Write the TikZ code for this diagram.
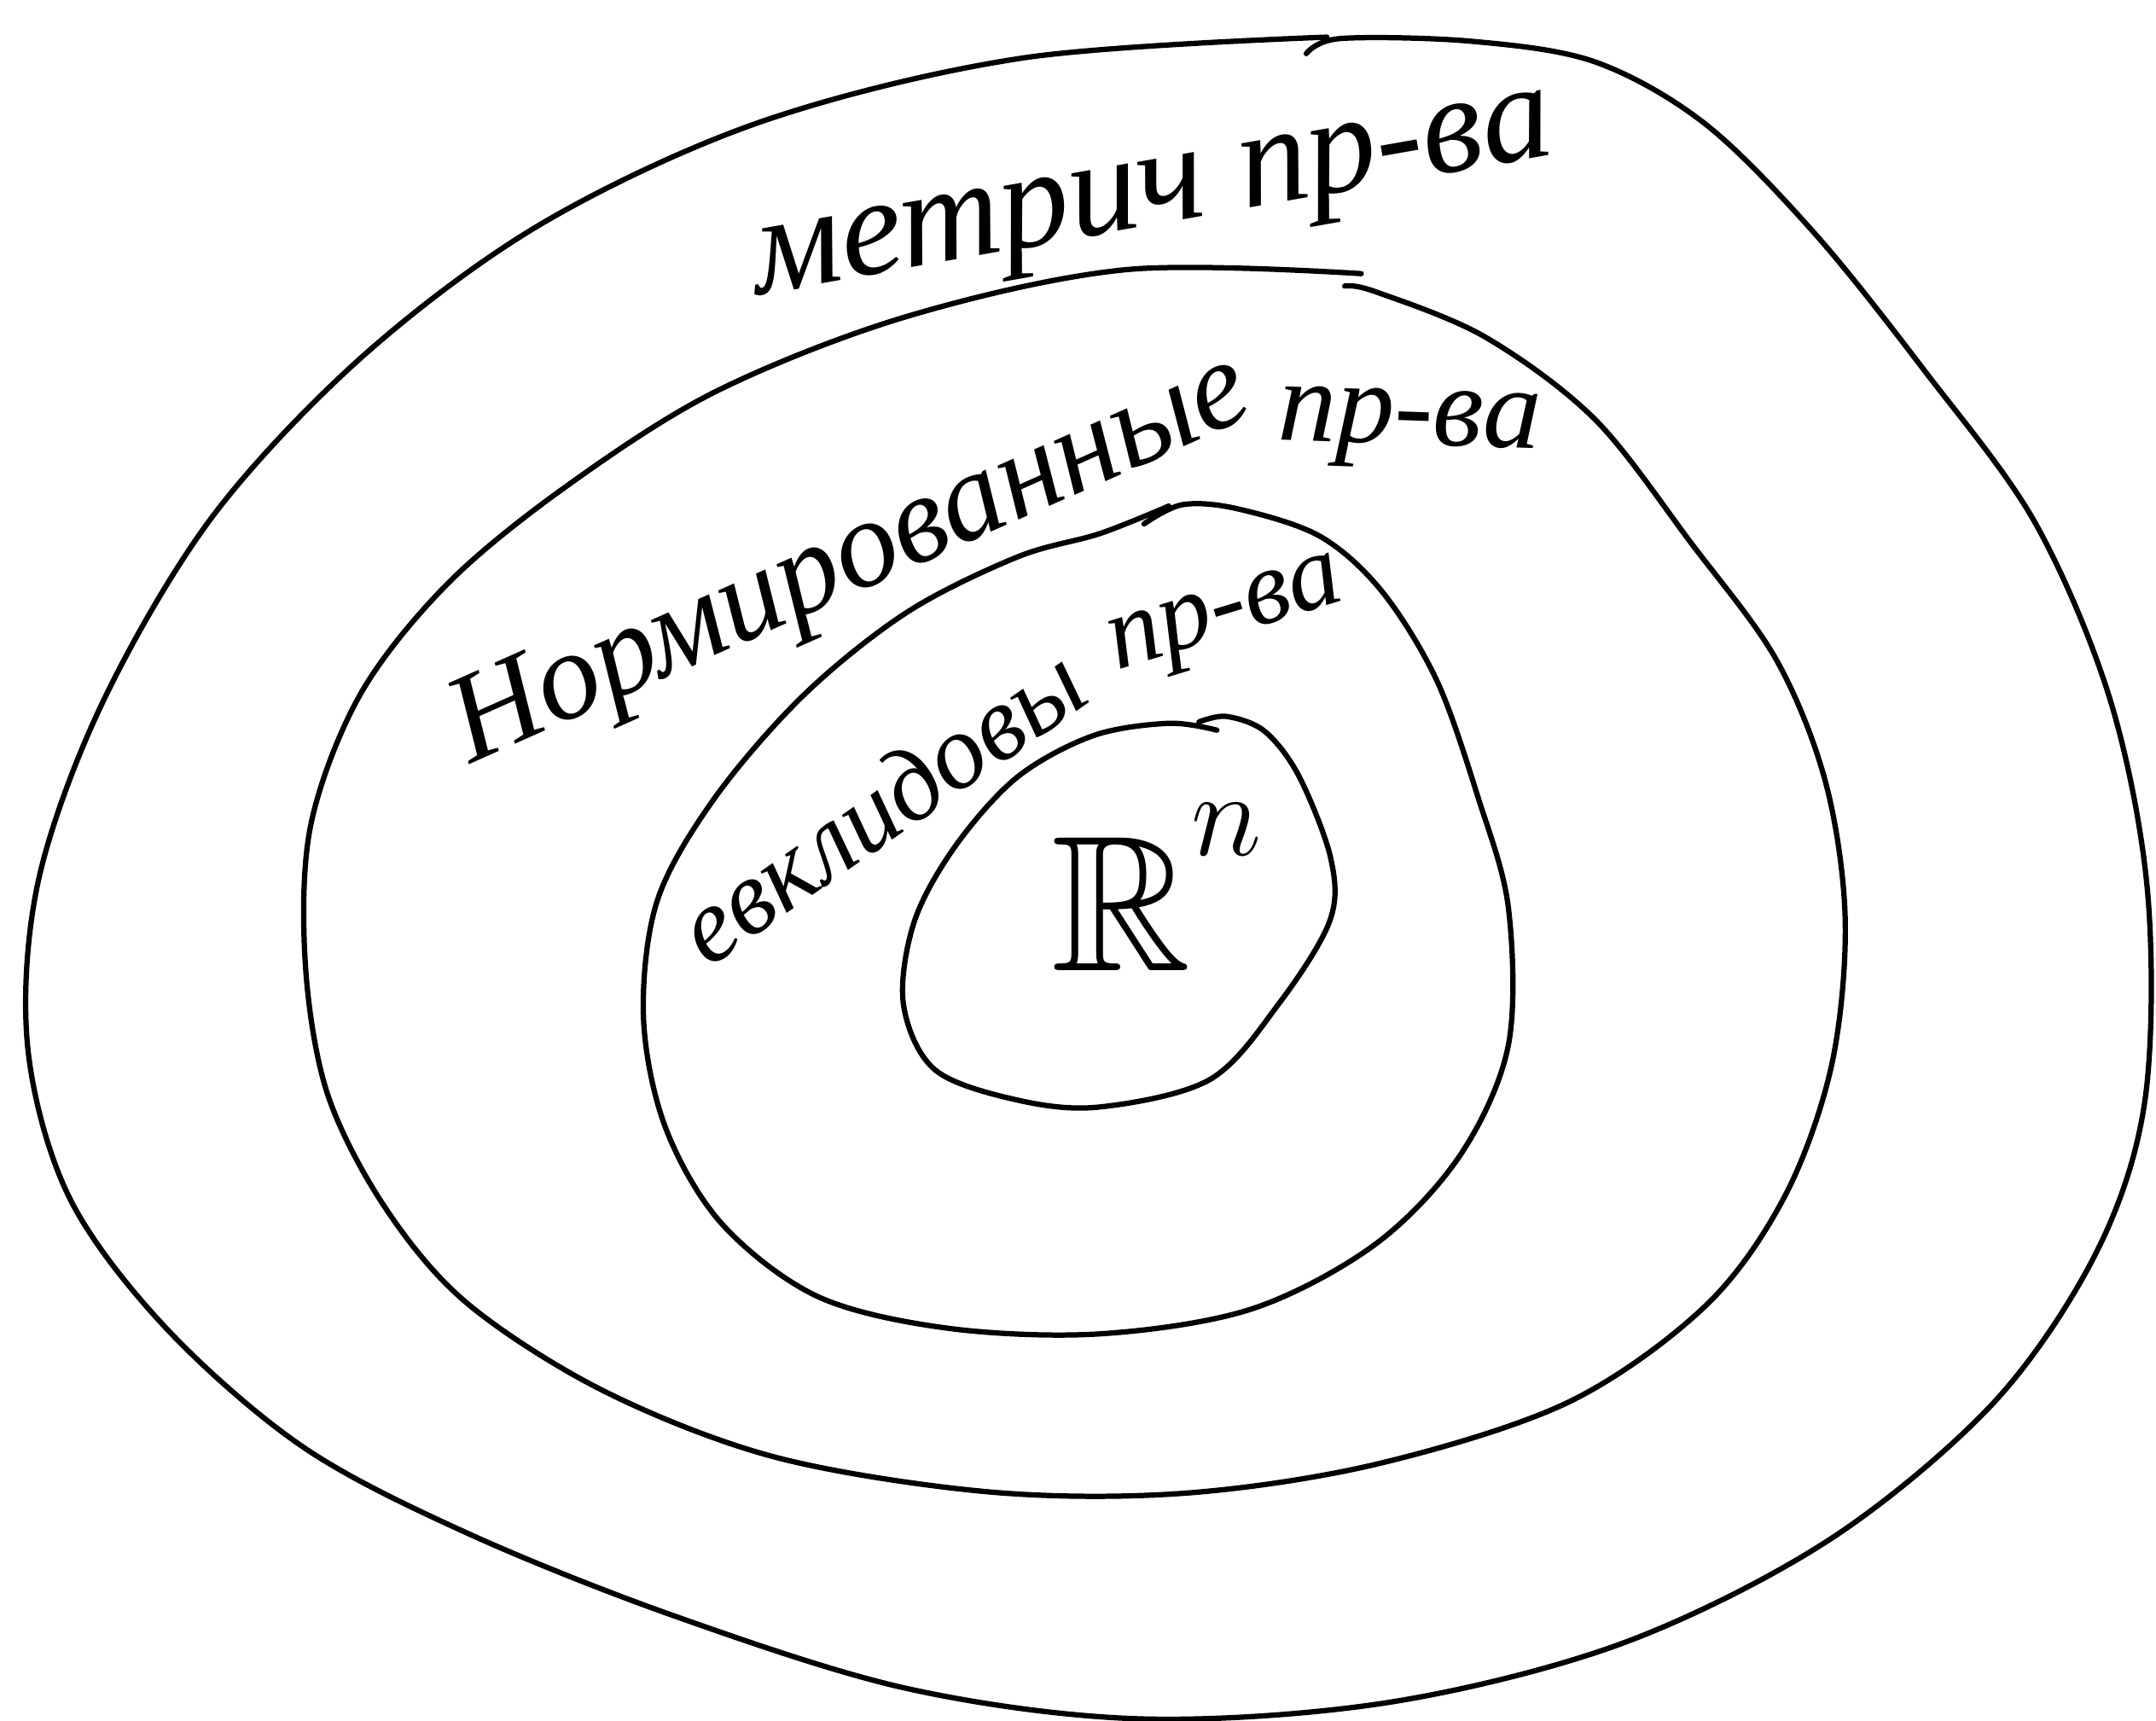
\documentclass[tikz,border=0pt]{standalone}
\usepackage{fontspec}
\usepackage{amssymb}
\setmainfont{Liberation Serif}
\begin{document}
\begin{tikzpicture}[x=0.01cm,y=-0.01cm,
  ring/.style={line width=1.1pt,line join=round,line cap=round},
  lbl/.style={font=\itshape\fontsize{26}{32}\selectfont,inner sep=0pt}]
\useasboundingbox (0,0) rectangle (1568,1251);
% outer ring
\draw[ring] plot[smooth,tension=0.55] coordinates{
 (950,39) (975,28) (1070,30) (1160,45) (1240,90) (1320,170) (1400,270)
 (1480,380) (1535,510) (1562,650) (1560,800) (1525,910) (1450,1020)
 (1330,1120) (1180,1195) (1010,1238) (830,1250) (660,1228) (490,1175)
 (340,1115) (220,1052) (120,965) (50,870) (20,760) (28,640) (75,510)
 (155,375) (265,258) (395,162) (555,88) (745,42) (965,27)};
% normed ring
\draw[ring] plot[smooth,tension=0.55] coordinates{
 (978,208) (1000,212) (1080,245) (1160,305) (1230,395) (1292,480)
 (1328,570) (1342,670) (1332,775) (1298,870) (1240,950) (1140,1020)
 (1000,1065) (860,1086) (720,1085) (565,1060) (440,1012) (340,948)
 (280,878) (238,795) (222,700) (226,600) (262,505) (325,425) (410,355)
 (520,285) (660,230) (820,196) (990,199)};
% euclidean ring
\draw[ring] plot[smooth,tension=0.55] coordinates{
 (832,381) (860,367) (900,370) (960,390) (1005,430) (1045,495)
 (1075,580) (1097,660) (1097,760) (1062,840) (1000,905) (910,952)
 (800,970) (690,966) (595,943) (525,890) (484,820) (468,740) (478,655)
 (520,580) (585,505) (660,445) (740,405) (800,388) (850,368)};
% R^n ring
\draw[ring] plot[smooth,tension=0.55] coordinates{
 (872,525) (892,521) (920,532) (945,565) (968,625) (967,670) (930,730)
 (880,785) (800,805) (740,800) (680,778) (657,730) (665,670) (695,615)
 (740,565) (795,535) (850,526) (885,531)};
% labels
\node[lbl,rotate=10,font=\itshape\fontsize{29}{34}\selectfont] (metr) at (840,150) {метрич пр-ва};
\node[lbl,rotate=24] (norm) at (620,410) {Нормированные};
\node[lbl,rotate=-2,font=\itshape\fontsize{24}{30}\selectfont] (normpr) at (1025,312) {пр-ва};
\node[lbl,rotate=35,font=\itshape\fontsize{22}{28}\selectfont] (eucl) at (640,585) {евклидовы};
\node[lbl,rotate=17,font=\itshape\fontsize{22}{28}\selectfont] (euclpr) at (893,452) {пр-ва};
\node[inner sep=0pt,font=\fontsize{40}{48}\selectfont] (rn) at (842,645) {$\mathbb{R}^{\raisebox{0.8ex}{$\scriptstyle n$}}$};
\end{tikzpicture}
\end{document}
